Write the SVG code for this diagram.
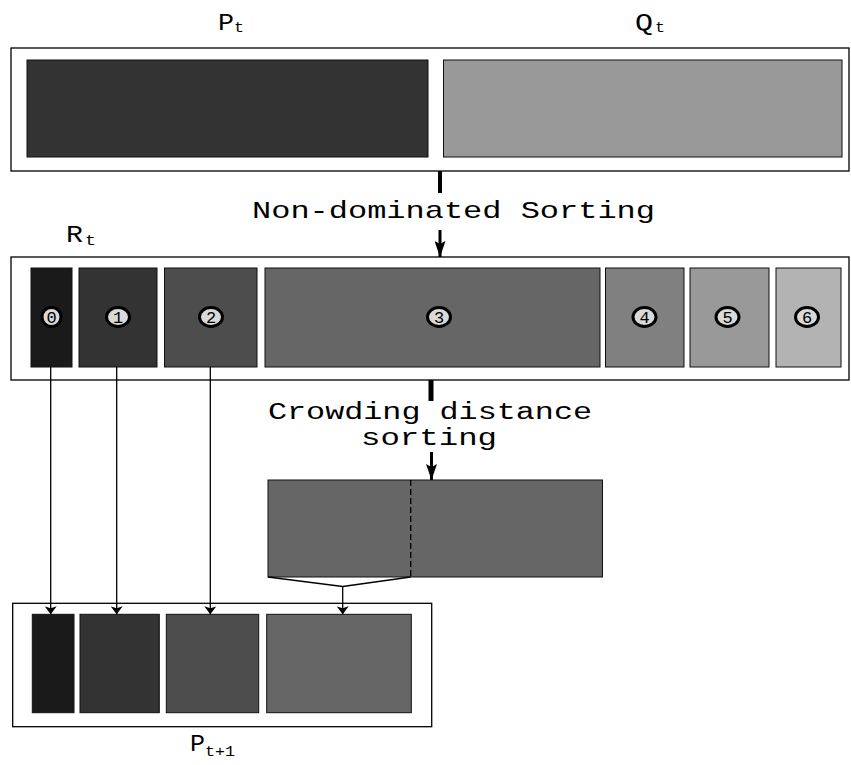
<svg xmlns="http://www.w3.org/2000/svg" width="851" height="765" viewBox="0 0 851 765">
<style>
.outer{fill:#fff;stroke:#000;stroke-width:1.3}
.blk{stroke:#111;stroke-width:1}
.lbl{font-family:"Liberation Mono",monospace;fill:#000}
.num{font-family:"Liberation Mono",monospace;font-size:17px;fill:#000;text-anchor:middle}
.badge{fill:#d9d9d9;stroke:#000;stroke-width:3}
.thin{stroke:#000;stroke-width:1.3;fill:none}
</style>
<defs>
<marker id="ah" viewBox="0 0 8 12" refX="8" refY="6" markerWidth="8" markerHeight="12" markerUnits="userSpaceOnUse" orient="auto">
<path d="M0,0 L8,6 L0,12 L2,6 Z" fill="#000"/>
</marker>
<marker id="ahb" viewBox="0 0 16 11" refX="16" refY="5.5" markerWidth="16" markerHeight="11" markerUnits="userSpaceOnUse" orient="auto">
<path d="M0,0 L16,5.5 L0,11 L3,5.5 Z" fill="#000"/>
</marker>
</defs>

<g id="label-Pt"><text class="lbl" x="218" y="30" font-size="24" textLength="16" lengthAdjust="spacingAndGlyphs">P</text><text class="lbl" x="234" y="32" font-size="15" textLength="10" lengthAdjust="spacingAndGlyphs">t</text></g>
<g id="label-Qt"><text class="lbl" x="635" y="30" font-size="24" textLength="18" lengthAdjust="spacingAndGlyphs">Q</text><text class="lbl" x="655" y="32" font-size="15" textLength="10" lengthAdjust="spacingAndGlyphs">t</text></g>

<g id="top-box">
<rect class="outer" x="11" y="48" width="838" height="123"/>
<rect class="blk" x="27" y="60" width="401" height="97" fill="#333"/>
<rect class="blk" x="443.5" y="60" width="398.5" height="97" fill="#999"/>
</g>

<g id="label-nds"><text class="lbl" x="252" y="218" font-size="24" textLength="403" lengthAdjust="spacingAndGlyphs">Non-dominated Sorting</text></g>

<g id="label-Rt"><text class="lbl" x="66" y="242" font-size="24" textLength="17" lengthAdjust="spacingAndGlyphs">R</text><text class="lbl" x="85" y="245" font-size="15" textLength="11" lengthAdjust="spacingAndGlyphs">t</text></g>

<g id="rt-box">
<rect class="outer" x="11" y="257" width="838" height="123"/>
<rect class="blk" x="31" y="268" width="41" height="99" fill="#1a1a1a"/>
<rect class="blk" x="79" y="268" width="78" height="99" fill="#333"/>
<rect class="blk" x="164.5" y="268" width="92.5" height="99" fill="#4d4d4d"/>
<rect class="blk" x="265" y="268" width="335" height="99" fill="#666"/>
<rect class="blk" x="605.5" y="268" width="78.5" height="99" fill="#808080"/>
<rect class="blk" x="690" y="268" width="79" height="99" fill="#999"/>
<rect class="blk" x="776" y="268" width="65" height="99" fill="#b3b3b3"/>
</g>
<g id="front-0"><ellipse class="badge" cx="51.5" cy="317" rx="9.5" ry="9.5"/><text class="num" x="51.5" y="323">0</text></g>
<g id="front-1"><ellipse class="badge" cx="118" cy="317" rx="11.5" ry="9.5"/><text class="num" x="118" y="323">1</text></g>
<g id="front-2"><ellipse class="badge" cx="211" cy="317" rx="11.5" ry="9.5"/><text class="num" x="211" y="323">2</text></g>
<g id="front-3"><ellipse class="badge" cx="439" cy="317" rx="11.5" ry="9.5"/><text class="num" x="439" y="323">3</text></g>
<g id="front-4"><ellipse class="badge" cx="644.5" cy="317" rx="11.5" ry="9.5"/><text class="num" x="644.5" y="323">4</text></g>
<g id="front-5"><ellipse class="badge" cx="727.5" cy="317" rx="11.5" ry="9.5"/><text class="num" x="727.5" y="323">5</text></g>
<g id="front-6"><ellipse class="badge" cx="807" cy="317" rx="11.5" ry="9.5"/><text class="num" x="807" y="323">6</text></g>

<g id="label-cds">
<text class="lbl" x="268" y="419" font-size="23" textLength="324" lengthAdjust="spacingAndGlyphs">Crowding distance</text>
<text class="lbl" x="361" y="445" font-size="23" textLength="136" lengthAdjust="spacingAndGlyphs">sorting</text>
</g>

<g id="crowd-box">
<rect class="blk" x="268" y="480" width="334.5" height="97" fill="#666" stroke="#000"/>
<line x1="410.7" y1="480" x2="410.7" y2="577" stroke="#000" stroke-width="1.3" stroke-dasharray="6,3"/>
</g>

<g id="pt1-box">
<rect class="outer" x="12.7" y="603.3" width="419" height="123.4"/>
<rect class="blk" x="32.3" y="614.3" width="41.7" height="98.4" fill="#1a1a1a"/>
<rect class="blk" x="80" y="614.3" width="79.3" height="98.4" fill="#333"/>
<rect class="blk" x="166.3" y="614.3" width="92.4" height="98.4" fill="#4d4d4d"/>
<rect class="blk" x="266.7" y="614.3" width="144.6" height="98.4" fill="#666"/>
</g>
<g id="label-Pt1"><text class="lbl" x="190" y="751" font-size="24" textLength="15" lengthAdjust="spacingAndGlyphs">P</text><text class="lbl" x="205" y="756" font-size="15" textLength="30" lengthAdjust="spacingAndGlyphs">t+1</text></g>

<g id="connectors">
<line x1="440" y1="171" x2="440" y2="193" stroke="#000" stroke-width="4"/>
<line x1="440" y1="230" x2="440" y2="257" stroke="#000" stroke-width="3" marker-end="url(#ahb)"/>
<line x1="431" y1="380" x2="431" y2="401" stroke="#000" stroke-width="5"/>
<line x1="431.5" y1="452" x2="431.5" y2="480" stroke="#000" stroke-width="3" marker-end="url(#ahb)"/>
<line class="thin" x1="50.7" y1="367" x2="50.7" y2="614.3" marker-end="url(#ah)"/>
<line class="thin" x1="116.7" y1="367" x2="116.7" y2="614.3" marker-end="url(#ah)"/>
<line class="thin" x1="210.3" y1="367" x2="210.3" y2="614.3" marker-end="url(#ah)"/>
<polyline class="thin" points="268,577 342.7,586.5 410.7,577"/>
<line class="thin" x1="342.7" y1="586.5" x2="342.7" y2="614.3" marker-end="url(#ah)"/>
</g>
</svg>
